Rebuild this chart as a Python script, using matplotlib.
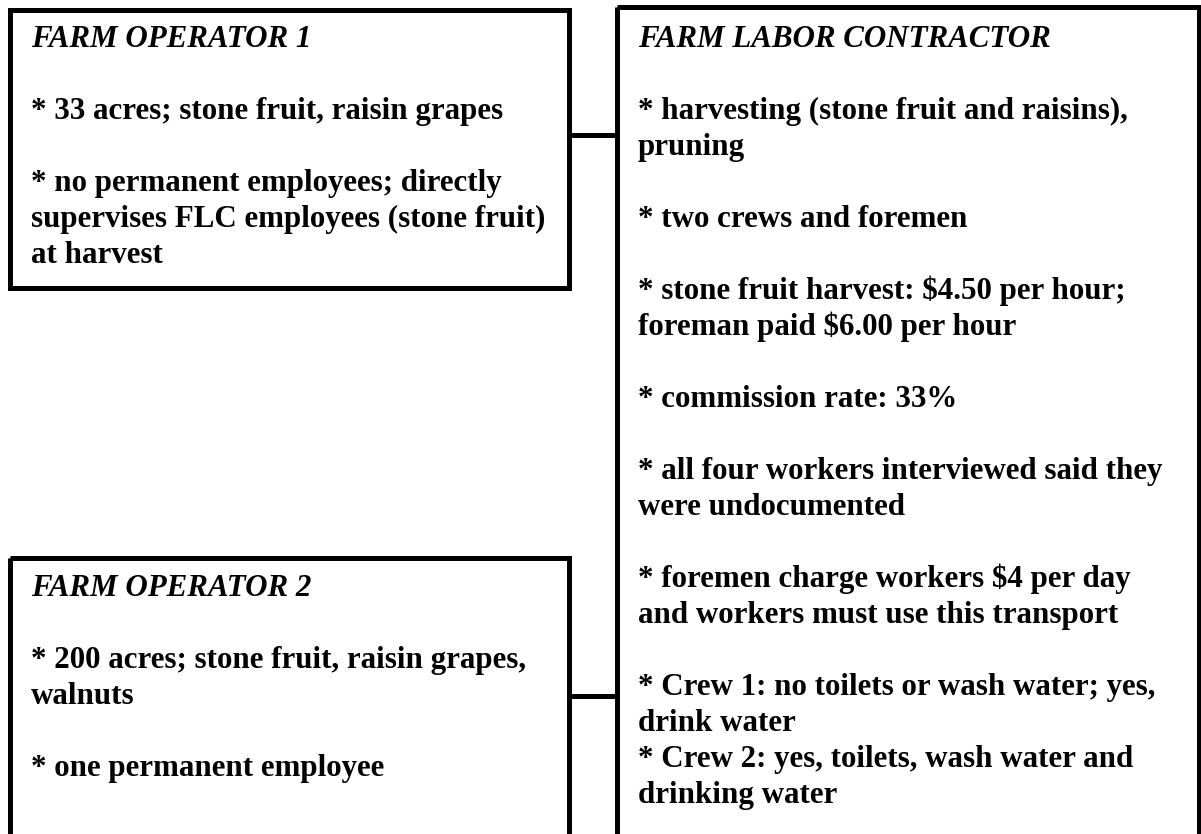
import matplotlib.pyplot as plt
from matplotlib.patches import Rectangle

plt.rcParams["font.family"] = ["Liberation Serif", "DejaVu Serif"]

op1_title = "FARM OPERATOR 1"
op1_lines = [
    "",
    "* 33 acres; stone fruit, raisin grapes",
    "",
    "* no permanent employees; directly",
    "supervises FLC employees (stone fruit)",
    "at harvest",
]

op2_title = "FARM OPERATOR 2"
op2_lines = [
    "",
    "* 200 acres; stone fruit, raisin grapes,",
    "walnuts",
    "",
    "* one permanent employee",
]

flc_title = "FARM LABOR CONTRACTOR"
flc_lines = [
    "",
    "* harvesting (stone fruit and raisins),",
    "pruning",
    "",
    "* two crews and foremen",
    "",
    "* stone fruit harvest: $4.50 per hour;",
    "foreman paid $6.00 per hour",
    "",
    "* commission rate: 33%",
    "",
    "* all four workers interviewed said they",
    "were undocumented",
    "",
    "* foremen charge workers $4 per day",
    "and workers must use this transport",
    "",
    "* Crew 1: no toilets or wash water; yes,",
    "drink water",
    "* Crew 2: yes, toilets, wash water and",
    "drinking water",
]

W, H = 1201, 834
LINE = 36
FS = 22.3
LW = 3.6

fig = plt.figure(figsize=(W / 100, H / 100), dpi=100)
ax = fig.add_axes([0, 0, 1, 1])
ax.set_xlim(0, W)
ax.set_ylim(H, 0)
ax.axis("off")


def draw_box(x0, y0, x1, y1, title, lines, tx, ty):
    ax.add_patch(Rectangle((x0, y0), x1 - x0, y1 - y0, fill=False,
                           edgecolor="black", linewidth=LW, clip_on=True))
    ax.text(tx, ty, title, fontsize=FS, fontweight="bold", fontstyle="italic",
            va="baseline", ha="left")
    for i, s in enumerate(lines, start=1):
        if s:
            ax.text(tx, ty + i * LINE, s, fontsize=FS, fontweight="bold",
                    va="baseline", ha="left")


draw_box(10, 10, 569, 288, op1_title, op1_lines, 31, 47)
draw_box(10, 558, 569, 836, op2_title, op2_lines, 31, 596)
draw_box(617, 7, 1199, 836, flc_title, flc_lines, 638, 47)

# connectors
ax.plot([569, 617], [135, 135], color="black", linewidth=LW)
ax.plot([569, 617], [696, 696], color="black", linewidth=LW)

fig.savefig("out.png", dpi=100)
